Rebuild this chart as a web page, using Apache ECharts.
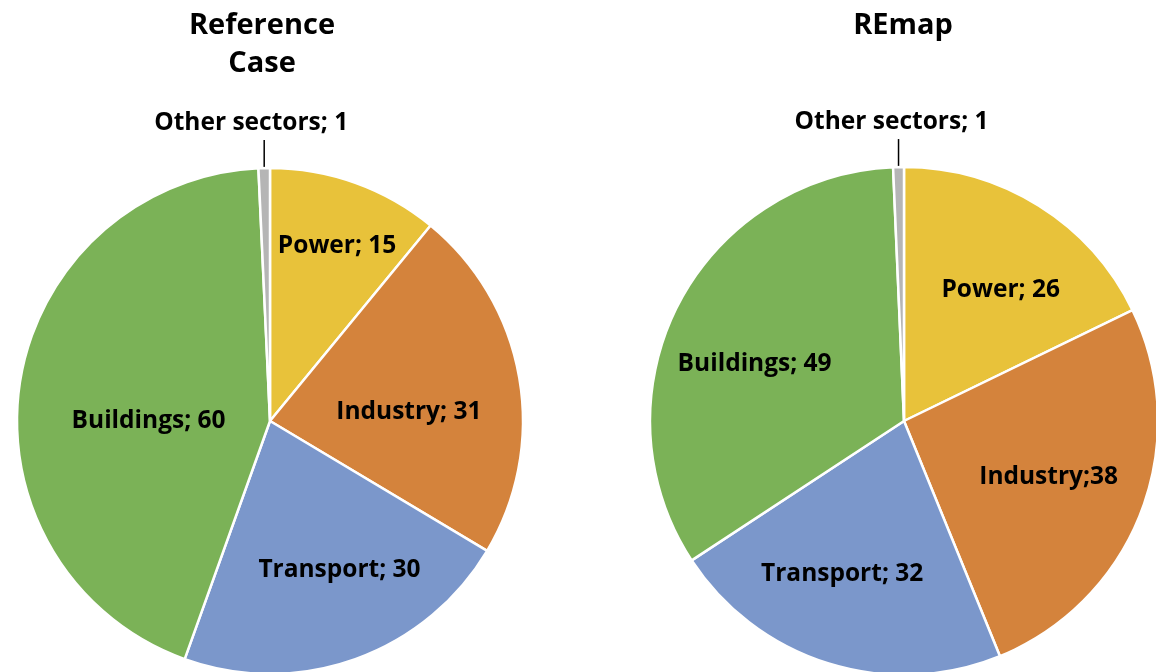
<!DOCTYPE html>
<html>
<head>
<meta charset="utf-8">
<script src="https://cdn.jsdelivr.net/npm/echarts@6/dist/echarts.min.js"></script>
<style>
  html, body { margin: 0; padding: 0; background: #ffffff; }
  #chart { width: 1156px; height: 672px; }
</style>
</head>
<body>
<div id="chart"></div>
<script>
// Energy use by sector: Reference Case vs REmap
const categories = ['Power', 'Industry', 'Transport', 'Buildings', 'Other sectors'];
const referenceValues = [15, 31, 30, 60, 1];
const remapValues = [26, 38, 32, 49, 1];
const referenceSeparators = ['; ', '; ', '; ', '; ', '; '];
const remapSeparators = ['; ', ';', '; ', '; ', '; '];
const chartTitles = ['Reference\nCase', 'REmap'];

const sectorColors = ['#E8C23A', '#D4833C', '#7B97CB', '#7BB257', '#B5B5B5'];

// Pie geometry (pixels) and per-slice label placement [radius fraction, angle clockwise from top]
const pies = [
  { center: [270, 421], radius: 253, titleX: 257,
    labelPlace: [[0.74, 21], [0.55, 86.5], [0.65, 155], [0.48, 270]],
    otherLabelShift: -13 },
  { center: [904, 421], radius: 254, titleX: 898,
    labelPlace: [[0.64, 36.5], [0.61, 111], [0.65, 202], [0.63, 291]],
    otherLabelShift: -7 }
];

const FONT = '"Open Sans", "DejaVu Sans", sans-serif';
const seriesValues = [referenceValues, remapValues];
const seriesSeparators = [referenceSeparators, remapSeparators];

function buildData(values, separators) {
  return categories.map((name, i) => {
    const item = {
      name: name,
      value: values[i],
      itemStyle: { color: sectorColors[i] },
      label: { formatter: name + separators[i] + values[i] }
    };
    if (i === categories.length - 1) {
      item.label.position = 'outside';
      item.labelLine = { show: true, length: 28, length2: 0, lineStyle: { color: '#000', width: 1.5 } };
    }
    return item;
  });
}

// Angle (degrees clockwise from top) of a slice's midpoint
function midAngle(values, idx) {
  const total = values.reduce((a, b) => a + b, 0);
  let before = 0;
  for (let i = 0; i < idx; i++) before += values[i];
  return (before + values[idx] / 2) / total * 360;
}

function polar(pie, frac, deg) {
  const a = deg * Math.PI / 180;
  return [pie.center[0] + pie.radius * frac * Math.sin(a),
          pie.center[1] - pie.radius * frac * Math.cos(a)];
}

function makeLabelLayout(s) {
  const pie = pies[s];
  return function (params) {
    const i = params.dataIndex;
    if (i === categories.length - 1) {
      const ang = midAngle(seriesValues[s], i);
      const edge = polar(pie, 1, ang);
      const top = [edge[0], edge[1] - 28];
      return {
        x: edge[0] + pie.otherLabelShift,
        y: top[1] - 17,
        align: 'center',
        verticalAlign: 'middle',
        labelLinePoints: [edge, top, top]
      };
    }
    const p = polar(pie, pie.labelPlace[i][0], pie.labelPlace[i][1]);
    return { x: p[0], y: p[1], align: 'center', verticalAlign: 'middle' };
  };
}

const chart = echarts.init(document.getElementById('chart'), null, { renderer: 'canvas' });

const series = seriesValues.map((values, s) => ({
  type: 'pie',
  center: pies[s].center,
  radius: [0, pies[s].radius],
  startAngle: 90,
  clockwise: true,
  animation: false,
  avoidLabelOverlap: false,
  itemStyle: { borderColor: '#ffffff', borderWidth: 2.5 },
  label: {
    show: true,
    position: 'inside',
    color: '#000000',
    fontFamily: FONT,
    fontWeight: 700,
    fontSize: 24.5
  },
  labelLine: { show: false },
  labelLayout: makeLabelLayout(s),
  emphasis: { disabled: true },
  data: buildData(values, seriesSeparators[s])
}));

chart.setOption({
  backgroundColor: '#ffffff',
  title: chartTitles.map((t, s) => ({
    text: t,
    left: pies[s].titleX,
    top: 2,
    textAlign: 'center',
    textStyle: { fontFamily: FONT, fontWeight: 700, fontSize: 29, lineHeight: 38, color: '#000' }
  })),
  series: series
});
</script>
</body>
</html>
